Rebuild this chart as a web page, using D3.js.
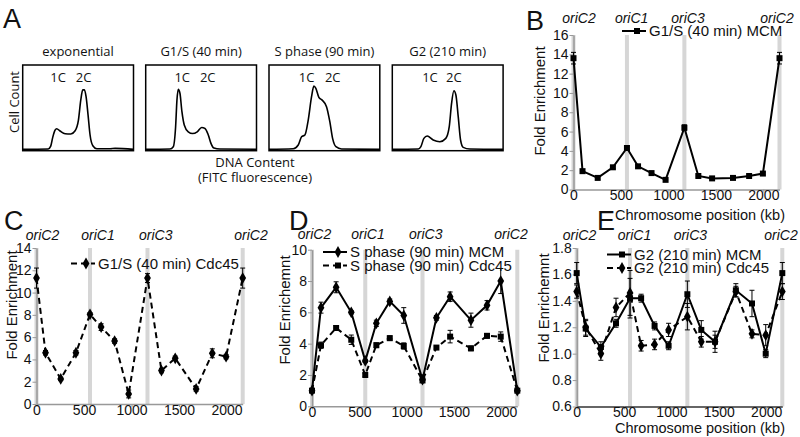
<!DOCTYPE html>
<html>
<head>
<meta charset="utf-8">
<script src="https://cdn.jsdelivr.net/npm/d3@7"></script>
<style>
  body { margin: 0; background: #fff; }
  svg { display: block; }
  text { font-family: "Liberation Sans", Arial, sans-serif; fill: #111; }
  .flow text { font-family: "Open Sans", "Liberation Sans", sans-serif; }
</style>
</head>
<body>
<div id="fig"></div>
<script>
//////////////////// data ////////////////////

// panel A: flow cytometry histograms, [DNA content %, cell count %]
var flowTitles = ["exponential", "G1/S (40 min)", "S phase (90 min)", "G2 (210 min)"];
var flowExp = [[0,1.6],[23,2],[25.3,5.4],[27.1,15.6],[29.2,24],[30.7,25.7],[33.7,23],[38.3,19.8],[43.4,19.5],[47.3,23.3],[50.3,35.8],[52.4,59],[54.2,71],[55.7,71],[57.2,63],[59,41.6],[60.8,18.3],[63.3,5.8],[66.9,2.3],[78.9,2.3],[83.4,2.7],[100,1.6]];
var flowG1S = [[0,1.6],[21.9,2],[24.9,4.7],[27,28],[28.2,59],[29.4,71.6],[30.9,67],[32.7,45.5],[34.8,30],[38.4,22],[42.3,20],[46.5,22],[50.5,27],[53.5,26],[56.5,18.3],[58.9,8.6],[61.6,3.1],[67,2],[100,1.6]];
var flowS = [[0,1.6],[21.9,2.3],[26.4,6.6],[29.4,16.3],[32.4,18.3],[35.4,35.8],[38.4,63],[40.5,75.5],[42.3,72.8],[45,62.3],[48,59],[51.9,51.4],[54.9,33.9],[57.4,14.4],[60.4,4.7],[65.5,2],[100,1.6]];
var flowG2 = [[0,1.6],[23.4,2],[25.8,4.7],[28.5,14.4],[31.5,17.1],[36.9,12.5],[42.9,10.5],[48.3,14.4],[51.4,28],[53.5,55.3],[55.6,70],[57.4,65],[59.5,39.7],[61.6,12.5],[64,3.9],[70,2],[100,1.6]];
var flowPeakLabels = ["1C", "2C"];
var flowPeakPos = [[32,55],[33,56],[34,57.5],[34,55.5]];

// panels B-E: ChIP-qPCR along the chromosome
var genomeEnd = 2170;
var positionsKb = [0, 95, 255, 415, 563, 680, 822, 970, 1168, 1315, 1460, 1680, 1850, 1995, 2170];
var oriNames = ["oriC2", "oriC1", "oriC3", "oriC2"];
var oriKb = [0, 563, 1168, 2170];
var xTicks = [0, 500, 1000, 1500, 2000];

var g1sMcm     = [13.6, 1.9, 1.2, 2.3, 4.3, 2.4, 1.7, 1.0, 6.4, 1.4, 1.15, 1.2, 1.4, 1.65, 13.6];
var g1sMcmErr  = [0.6, 0.15, 0.15, 0.15, 0.2, 0.15, 0.12, 0.1, 0.3, 0.1, 0.1, 0.1, 0.1, 0.15, 0.6];
var g1sCdc     = [11.3, 4.6, 2.25, 4.6, 8.05, 6.9, 5.65, 0.9, 11.3, 3.0, 4.1, 1.35, 4.55, 4.25, 11.3];
var g1sCdcErr  = [0.9, 0.2, 0.15, 0.2, 0.15, 0.3, 0.2, 0.35, 0.4, 0.2, 0.2, 0.2, 0.4, 0.2, 0.9];
var sMcm       = [1.0, 6.3, 7.6, 6.0, 2.9, 5.3, 6.7, 5.8, 1.7, 5.65, 7.0, 5.5, 6.45, 8.0, 1.0];
var sMcmErr    = [0.05, 0.35, 0.35, 0.1, 0.1, 0.2, 0.15, 0.5, 0.1, 0.15, 0.3, 0.45, 0.3, 0.8, 0.05];
var sCdc       = [1.0, 3.9, 5.0, 4.25, 2.0, 3.9, 4.35, 3.85, 1.65, 3.75, 4.45, 3.7, 4.5, 4.45, 1.0];
var sCdcErr    = [0.05, 0.2, 0.15, 0.3, 0.1, 0.15, 0.15, 0.2, 0.1, 0.1, 0.4, 0.15, 0.15, 0.3, 0.05];
var g2Mcm      = [1.61, 1.19, 1.05, 1.23, 1.42, 1.42, 1.21, 1.06, 1.45, 1.18, 1.09, 1.48, 1.38, 1.0, 1.61];
var g2McmErr   = [0.08, 0.06, 0.04, 0.03, 0.15, 0.03, 0.03, 0.03, 0.1, 0.07, 0.08, 0.05, 0.1, 0.03, 0.08];
var g2Cdc      = [1.47, 1.2, 1.0, 1.35, 1.46, 1.06, 1.07, 1.18, 1.28, 1.09, 1.09, 1.47, 1.15, 1.14, 1.47];
var g2CdcErr   = [0.05, 0.06, 0.05, 0.07, 0.17, 0.04, 0.04, 0.05, 0.1, 0.04, 0.05, 0.04, 0.03, 0.08, 0.06];

var ticksB = [0, 2, 4, 6, 8, 10, 12, 14, 16];
var ticksC = [0, 2, 4, 6, 8, 10, 12, 14];
var ticksD = [0, 2, 4, 6, 8, 10];
var ticksE = [0.6, 0.8, 1.0, 1.2, 1.4, 1.6, 1.8];

//////////////////// svg ////////////////////

var svg = d3.select("#fig").append("svg")
    .attr("width", 800)
    .attr("height", 437);

//panel letters
var letters = [["A", 3, 28], ["B", 526, 30], ["C", 4, 230], ["D", 289, 230], ["E", 597, 230]];
svg.selectAll(".letter").data(letters).enter().append("text")
    .attr("x", function(d){ return d[1]; })
    .attr("y", function(d){ return d[2]; })
    .style("font-size", "27px")
    .text(function(d){ return d[0]; });

//////////////////// panel A ////////////////////

var flowData = [flowExp, flowG1S, flowS, flowG2];
var boxX = [22.7, 145.7, 269, 392.3], boxW = 110.8, boxTop = 65, boxBottom = 150.7;
var fa = svg.append("g").attr("class", "flow");

flowData.forEach(function(pts, i) {
    var fx = d3.scaleLinear().domain([0, 100]).range([boxX[i], boxX[i] + boxW]);
    var fy = d3.scaleLinear().domain([0, 100]).range([boxBottom, boxTop]);
    var line = d3.line().curve(d3.curveMonotoneX)
        .x(function(d){ return fx(d[0]); })
        .y(function(d){ return fy(d[1]); });

    fa.append("path")
        .attr("d", line(pts))
        .style("fill", "none")
        .style("stroke", "#000")
        .style("stroke-width", 1.6);

    fa.append("rect")
        .attr("x", boxX[i]).attr("y", boxTop)
        .attr("width", boxW).attr("height", boxBottom - boxTop)
        .style("fill", "none")
        .style("stroke", "#000")
        .style("stroke-width", 1.5);

    fa.append("text")
        .attr("x", boxX[i] + boxW / 2).attr("y", 56)
        .attr("text-anchor", "middle")
        .style("font-size", "13px")
        .text(flowTitles[i]);

    flowPeakLabels.forEach(function(p, j) {
        fa.append("text")
            .attr("x", fx(flowPeakPos[i][j])).attr("y", 82)
            .attr("text-anchor", "middle")
            .style("font-size", "13px")
            .text(p);
    });
});

fa.append("text")
    .attr("transform", "translate(19,102) rotate(-90)")
    .attr("text-anchor", "middle")
    .style("font-size", "13px")
    .text("Cell Count");
fa.append("text").attr("x", 255).attr("y", 167).attr("text-anchor", "middle")
    .style("font-size", "13px").text("DNA Content");
fa.append("text").attr("x", 255).attr("y", 182).attr("text-anchor", "middle")
    .style("font-size", "13px").text("(FITC fluorescence)");

//////////////////// panels B-E ////////////////////

function linePanel(cfg) {
    var x = d3.scaleLinear().domain([0, genomeEnd]).range(cfg.xr);
    var y = d3.scaleLinear().domain([cfg.ticks[0], cfg.ticks[cfg.ticks.length - 1]]).range(cfg.yr);
    var g = svg.append("g");

    //origin bands
    g.selectAll(".ori").data(oriKb).enter().append("line")
        .attr("x1", function(d){ return x(d); })
        .attr("x2", function(d){ return x(d); })
        .attr("y1", cfg.yr[1])
        .attr("y2", cfg.yr[0])
        .style("stroke", "#d6d6d6")
        .style("stroke-width", 4);

    g.selectAll(".oriLabel").data(oriNames).enter().append("text")
        .attr("x", function(d, i){ return x(oriKb[i]) + cfg.oriDx[i]; })
        .attr("y", cfg.oriY)
        .attr("text-anchor", "middle")
        .style("font-size", "14px")
        .style("font-style", "italic")
        .text(function(d){ return d; });

    //axes
    var yAxis = g.append("g")
        .attr("transform", "translate(" + cfg.xr[0] + ",0)")
        .call(d3.axisLeft(y).tickValues(cfg.ticks).tickSize(4).tickSizeOuter(0).tickPadding(1)
            .tickFormat(cfg.fmt ? d3.format(cfg.fmt) : d3.format("d")));
    var xAxis = g.append("g")
        .attr("transform", "translate(0," + cfg.yr[0] + ")")
        .call(d3.axisBottom(x).tickValues(xTicks).tickSize(3).tickSizeOuter(0).tickPadding(-2)
            .tickFormat(d3.format("d")));
    [yAxis, xAxis].forEach(function(a) {
        a.select(".domain").style("stroke", "#999").style("stroke-width", 1.5);
        a.selectAll(".tick line").style("stroke", "#999");
        a.selectAll(".tick text").style("font-size", "14px").style("fill", "#111")
            .style("font-family", "'Liberation Sans', Arial, sans-serif");
    });
    if (cfg.darkX) xAxis.select(".domain").style("stroke", "#333");

    g.append("text")
        .attr("transform", "translate(" + cfg.titleX + "," + cfg.titleY + ") rotate(-90)")
        .attr("text-anchor", "middle")
        .style("font-size", "15px")
        .text(cfg.yTitle);

    if (cfg.xTitle) {
        g.append("text")
            .attr("x", 700).attr("y", cfg.xTitleY)
            .attr("text-anchor", "middle")
            .style("font-size", "14.5px")
            .text("Chromosome position (kb)");
    }

    //series
    cfg.series.forEach(function(s, k) {
        var pts = positionsKb.map(function(p, i){ return {x: p, v: s.values[i], e: s.err[i]}; });
        var line = d3.line()
            .x(function(d){ return x(d.x); })
            .y(function(d){ return y(d.v); });

        g.append("path")
            .attr("d", line(pts))
            .style("fill", "none")
            .style("stroke", "#000")
            .style("stroke-width", 2)
            .style("stroke-dasharray", s.dashed ? "6,4" : null);

        var eb = g.append("g").selectAll("g").data(pts).enter().append("g");
        eb.append("line")
            .attr("x1", function(d){ return x(d.x); })
            .attr("x2", function(d){ return x(d.x); })
            .attr("y1", function(d){ return y(d.v - d.e); })
            .attr("y2", function(d){ return y(d.v + d.e); })
            .style("stroke", "#000").style("stroke-width", 1);
        [-1, 1].forEach(function(sg) {
            eb.append("line")
                .attr("x1", function(d){ return x(d.x) - 2.5; })
                .attr("x2", function(d){ return x(d.x) + 2.5; })
                .attr("y1", function(d){ return y(d.v + sg * d.e); })
                .attr("y2", function(d){ return y(d.v + sg * d.e); })
                .style("stroke", "#000").style("stroke-width", 1);
        });

        var sym = d3.symbol().type(s.marker === "square" ? d3.symbolSquare : d3.symbolDiamond)
            .size(s.marker === "square" ? 36 : 40);
        g.append("g").selectAll("path").data(pts).enter().append("path")
            .attr("transform", function(d){ return "translate(" + x(d.x) + "," + y(d.v) + ")"; })
            .attr("d", sym)
            .style("fill", "#000");

        //legend
        var ly = cfg.legend.y + k * 13.5;
        var lx = cfg.legend.x;
        g.append("line")
            .attr("x1", lx).attr("x2", lx + 24)
            .attr("y1", ly).attr("y2", ly)
            .style("stroke", "#000").style("stroke-width", 2)
            .style("stroke-dasharray", s.dashed ? "6,4" : null);
        g.append("path")
            .attr("transform", "translate(" + (lx + 15) + "," + ly + ")")
            .attr("d", sym)
            .style("fill", "#000");
        g.append("text")
            .attr("x", lx + 27).attr("y", ly)
            .attr("dy", "0.35em")
            .style("font-size", "15px")
            .text(s.label);
    });
}

linePanel({
    xr: [573.5, 779.5], yr: [189.5, 35], ticks: ticksB,
    oriY: 23, oriDx: [5.5, 4.7, 3.6, -2.5],
    titleX: 545, titleY: 101, yTitle: "Fold Enrichment",
    xTitle: true, xTitleY: 220,
    legend: {x: 622, y: 31},
    series: [{label: "G1/S (40 min) MCM", values: g1sMcm, err: g1sMcmErr, dashed: false, marker: "square"}]
});

linePanel({
    xr: [36.5, 242.7], yr: [404, 248], ticks: ticksC,
    oriY: 240, oriDx: [6, 8, 8.3, 8.3],
    titleX: 16.5, titleY: 305, yTitle: "Fold Enrichment",
    xTitle: false,
    legend: {x: 71, y: 263.5},
    series: [{label: "G1/S (40 min) Cdc45", values: g1sCdc, err: g1sCdcErr, dashed: true, marker: "diamond"}]
});

linePanel({
    xr: [312, 517.3], yr: [406.3, 249.7], ticks: ticksD,
    oriY: 239, oriDx: [2.5, 2.7, 3.3, -6.3],
    titleX: 290, titleY: 310, yTitle: "Fold Enrichemnt",
    xTitle: false,
    legend: {x: 323, y: 252},
    series: [
        {label: "S phase (90 min) MCM", values: sMcm, err: sMcmErr, dashed: false, marker: "diamond"},
        {label: "S phase (90 min) Cdc45", values: sCdc, err: sCdcErr, dashed: true, marker: "square"}
    ]
});

linePanel({
    xr: [576.7, 782.3], yr: [406.5, 248], ticks: ticksE, fmt: ".1f",
    oriY: 240, oriDx: [2.8, 4.5, 3, -1.3],
    titleX: 549, titleY: 308, yTitle: "Fold Enrichemnt",
    xTitle: true, xTitleY: 433, darkX: true,
    legend: {x: 607, y: 254.5},
    series: [
        {label: "G2 (210 min) MCM", values: g2Mcm, err: g2McmErr, dashed: false, marker: "square"},
        {label: "G2 (210 min) Cdc45", values: g2Cdc, err: g2CdcErr, dashed: true, marker: "diamond"}
    ]
});
</script>
</body>
</html>
